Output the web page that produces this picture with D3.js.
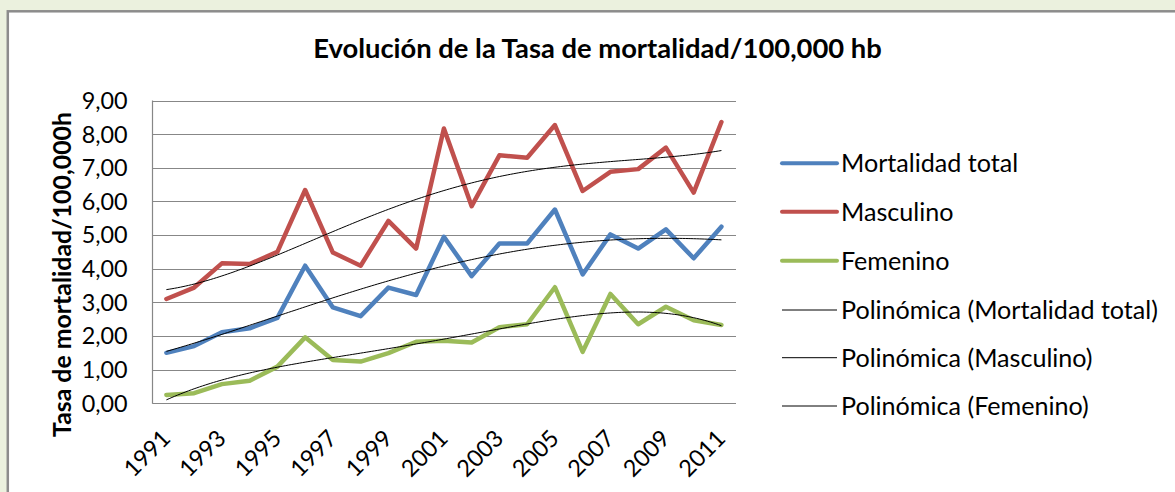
<!DOCTYPE html>
<html><head><meta charset="utf-8">
<script src="https://cdn.jsdelivr.net/npm/d3@7"></script>
<style>html,body{margin:0;padding:0;background:#EBF1DE;} svg{display:block}</style>
</head><body><svg id="c" width="1175" height="492"></svg>
<script>
const years = ["1991","1992","1993","1994","1995","1996","1997","1998","1999","2000","2001","2002","2003","2004","2005","2006","2007","2008","2009","2010","2011"];
const yearLabels = ["1991","1993","1995","1997","1999","2001","2003","2005","2007","2009","2011"];
const yTickValues = [0,1,2,3,4,5,6,7,8,9];
const yTickLabels = ["0,00","1,00","2,00","3,00","4,00","5,00","6,00","7,00","8,00","9,00"];
const total = [1.50,1.70,2.11,2.23,2.54,4.09,2.85,2.59,3.44,3.22,4.95,3.78,4.75,4.75,5.76,3.83,5.02,4.60,5.17,4.31,5.25];
const masculino = [3.10,3.44,4.16,4.14,4.50,6.34,4.48,4.09,5.42,4.60,8.17,5.86,7.37,7.30,8.27,6.31,6.88,6.96,7.60,6.26,8.36];
const femenino = [0.25,0.30,0.57,0.67,1.09,1.96,1.29,1.24,1.49,1.83,1.86,1.81,2.26,2.35,3.45,1.53,3.25,2.35,2.87,2.47,2.33];
const seriesNames = ["Mortalidad total","Masculino","Femenino"];
const seriesColors = ["#4F81BD","#C0504D","#9BBB59"];
const trendNames = ["Polinómica (Mortalidad total)","Polinómica (Masculino)","Polinómica (Femenino)"];
const trendOrder = 4;
const title = "Evolución de la Tasa de mortalidad/100,000 hb";
const yTitle = "Tasa de mortalidad/100,000h";

const FONT = "Lato, 'Open Sans', sans-serif";
const svg = d3.select("#c");
const W = 1175, H = 492;

// chart area frame
svg.append("rect").attr("x",7.8).attr("y",11.3).attr("width",W+20).attr("height",H+20)
  .attr("fill","#fff").attr("stroke","#8C8C8C").attr("stroke-width",2.5);

const L = 152.5, R = 735.3, T = 100.5, B = 403.3;
const x = d3.scaleBand().domain(years).range([L, R]);
const cx = d => x(d) + x.bandwidth()/2;
const y = d3.scaleLinear().domain([0,9]).range([B, T]);

function fitSize(sel, base, target){
  sel.attr("font-size", base);
  const len = sel.node().getComputedTextLength();
  const s = base * target / len;
  sel.attr("font-size", s);
  return s;
}

// gridlines
svg.append("g").selectAll("line").data(yTickValues).join("line")
  .attr("x1", L).attr("x2", R+0.7).attr("y1", d=>Math.round(y(d))+0.5).attr("y2", d=>Math.round(y(d))+0.5)
  .attr("stroke","#878787").attr("stroke-width",1.2);
svg.append("line").attr("x1",L).attr("x2",L).attr("y1",T).attr("y2",B+0.5)
  .attr("stroke","#878787").attr("stroke-width",1.2);

// y tick labels
const yLab = svg.append("g").selectAll("text").data(yTickValues).join("text")
  .attr("x",127.7).attr("y", d=>y(d)).attr("dy","0.36em").attr("text-anchor","end")
  .attr("font-family",FONT).attr("fill","#000").text((d,i)=>yTickLabels[i]);
const probe = svg.append("text").attr("font-family",FONT).text("9,00");
const tickSize = fitSize(probe, 20, 46); probe.remove();
yLab.attr("font-size", tickSize);

// x tick labels
svg.append("g").selectAll("text").data(yearLabels).join("text")
  .attr("transform", d=>`translate(${cx(d)+5.5},440) rotate(-45)`)
  .attr("text-anchor","end").attr("font-family",FONT).attr("font-size",tickSize).attr("fill","#000")
  .text(d=>d);

// lines
const line = d3.line().x((d,i)=>cx(years[i])).y(d=>y(d));
[total, masculino, femenino].forEach((s,k)=>{
  svg.append("path").datum(s).attr("d", line).attr("fill","none")
    .attr("stroke", seriesColors[k]).attr("stroke-width",4.5)
    .attr("stroke-linejoin","round").attr("stroke-linecap","round");
});

// polynomial trendlines (least squares fit, like Excel's "Polinómica")
function polyfit(ys, order){
  const n = order+1;
  const A = Array.from({length:n},()=>new Array(n).fill(0));
  const b = new Array(n).fill(0);
  ys.forEach((v,i)=>{
    const t = (i+1-11)/10;
    for(let r=0;r<n;r++){ b[r]+=v*Math.pow(t,r); for(let c=0;c<n;c++) A[r][c]+=Math.pow(t,r+c); }
  });
  for(let i=0;i<n;i++){
    let p=i; for(let r=i+1;r<n;r++) if(Math.abs(A[r][i])>Math.abs(A[p][i])) p=r;
    [A[i],A[p]]=[A[p],A[i]]; [b[i],b[p]]=[b[p],b[i]];
    for(let r=i+1;r<n;r++){ const f=A[r][i]/A[i][i]; for(let c=i;c<n;c++) A[r][c]-=f*A[i][c]; b[r]-=f*b[i]; }
  }
  const co=new Array(n).fill(0);
  for(let i=n-1;i>=0;i--){ let s=b[i]; for(let c=i+1;c<n;c++) s-=A[i][c]*co[c]; co[i]=s/A[i][i]; }
  return t=>{const u=(t-11)/10; return co.reduce((a,c,k)=>a+c*Math.pow(u,k),0);};
}
const step = x.step();
[total, masculino, femenino].forEach(s=>{
  const f = polyfit(s, trendOrder);
  const pts = d3.range(1, 21.001, 0.1).map(t=>[cx(years[0]) + (t-1)*step, y(f(t))]);
  svg.append("path").attr("d", d3.line()(pts)).attr("fill","none")
    .attr("stroke","#000").attr("stroke-width",1);
});

// title
const tt = svg.append("text").attr("x",597.5).attr("y",58).attr("text-anchor","middle")
  .attr("font-family",FONT).attr("font-weight","bold").attr("fill","#000").text(title);
fitSize(tt, 24, 569);

// y title
const yt = svg.append("text").attr("transform","translate(71,274.5) rotate(-90)").attr("text-anchor","middle")
  .attr("font-family",FONT).attr("font-weight","bold").attr("fill","#000").text(yTitle);
fitSize(yt, 22, 325);

// legend
const legRows = [163.3, 211.7, 260.7, 310, 357.7, 406];
const legNames = seriesNames.concat(trendNames);
const lg = svg.append("g");
const lprobe = lg.append("text").attr("font-family",FONT).text(trendNames[0]);
const legSize = fitSize(lprobe, 22, 317); lprobe.remove();
legNames.forEach((nm,i)=>{
  const isS = i<3;
  lg.append("line").attr("x1",782).attr("x2",837).attr("y1",legRows[i]).attr("y2",legRows[i])
    .attr("stroke", isS?seriesColors[i]:"#000").attr("stroke-width", isS?4:1)
    .attr("stroke-linecap", isS?"round":"butt");
  lg.append("text").attr("x",841).attr("y",legRows[i]).attr("dy","0.36em")
    .attr("font-family",FONT).attr("font-size",legSize).attr("fill","#000").text(nm);
});
</script></body></html>
